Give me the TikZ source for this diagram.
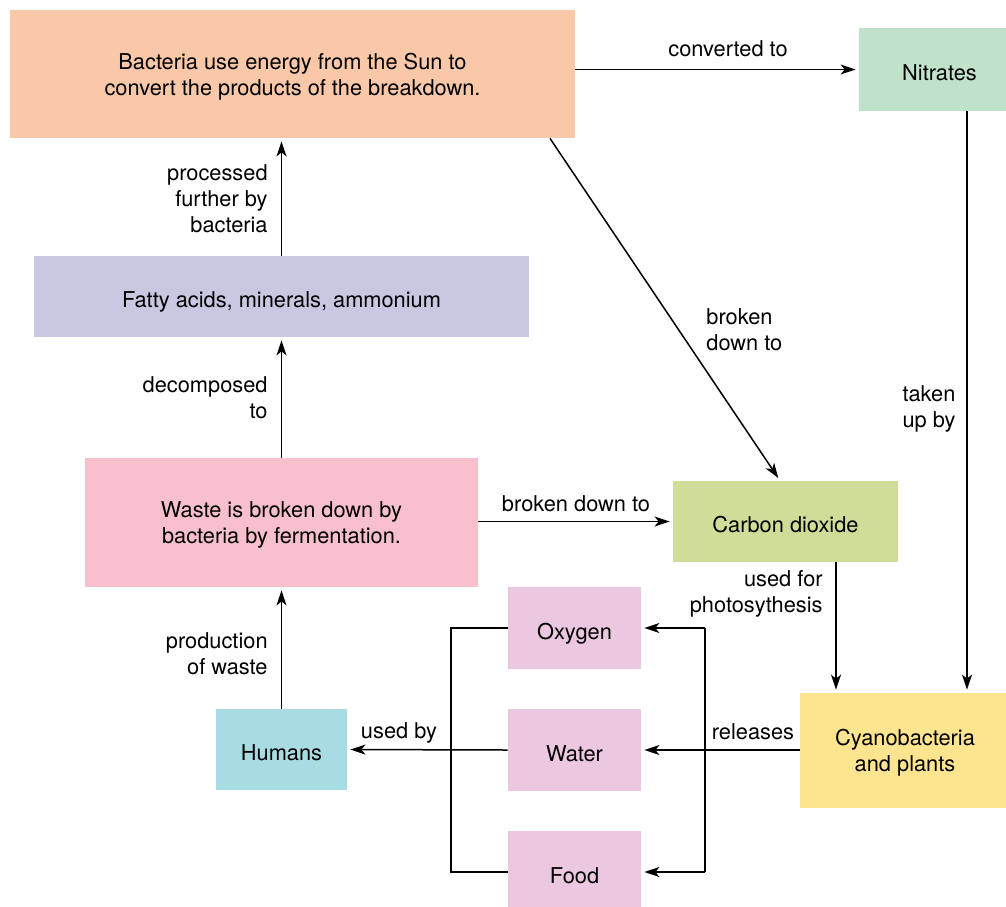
\documentclass[tikz,border=0pt]{standalone}
\usepackage{fontspec}
\setmainfont{TeX Gyre Heros}
\usetikzlibrary{arrows.meta}
\definecolor{cOrange}{HTML}{F9C8A9}
\definecolor{cNitr}{HTML}{C0E2CB}
\definecolor{cFatty}{HTML}{C9C7E1}
\definecolor{cWaste}{HTML}{F8C0CD}
\definecolor{cCO}{HTML}{CEDE98}
\definecolor{cProd}{HTML}{ECC7E0}
\definecolor{cHum}{HTML}{A9DBE3}
\definecolor{cCyan}{HTML}{FDE48E}
\newcommand\myupA{\rule{0pt}{11pt}}
\newcommand\myupB{\rule{0pt}{10pt}}
\tikzset{
  box/.style={inner sep=0pt, align=center, font=\fontsize{10.9pt}{13pt}\selectfont},
  onebox/.style={box, text height=11pt, text depth=0pt},
  lbl/.style={inner sep=0pt, font=\fontsize{10.9pt}{13pt}\selectfont},
  arr/.style={line width=0.75pt, -{Stealth[length=7.5pt,width=5pt,inset=2pt]}, shorten >=1.5pt},
  ln/.style={line width=0.75pt}
}
\begin{document}
\begin{tikzpicture}[x=0.5pt,y=-0.5pt]
\clip (0,0) rectangle (1006,906);
\fill[white] (0,0) rectangle (1006,906);
% boxes
\node[box, fill=cOrange, minimum width=282.5pt, minimum height=64pt] (top) at (292.5,74)
  {\myupA Bacteria use energy from the Sun to\\convert the products of the breakdown.};
\node[onebox, fill=cNitr, minimum width=80.5pt, minimum height=41.5pt] (nitr) at (939.5,69.5) {Nitrates};
\node[onebox, fill=cFatty, minimum width=247.5pt, minimum height=40.5pt] (fatty) at (281.5,296.5) {Fatty acids, minerals, ammonium};
\node[box, fill=cWaste, minimum width=196.5pt, minimum height=64.5pt] (waste) at (281.5,522.5)
  {\myupB Waste is broken down by\\bacteria by fermentation.};
\node[onebox, fill=cCO, minimum width=112.5pt, minimum height=40.5pt] (co2) at (785.5,521.5) {Carbon dioxide};
\node[onebox, fill=cProd, minimum width=66.5pt, minimum height=41pt] (oxy) at (574.5,628) {Oxygen};
\node[onebox, fill=cProd, minimum width=66.5pt, minimum height=41pt] (water) at (574.5,750) {Water};
\node[onebox, fill=cProd, minimum width=66.5pt, minimum height=41pt] (food) at (574.5,872) {Food};
\node[onebox, fill=cHum, minimum width=65.5pt, minimum height=40.5pt] (hum) at (281.5,749.5) {Humans};
\node[box, fill=cCyan, minimum width=105pt, minimum height=57.5pt] (cyan) at (905,750.5) {\myupB Cyanobacteria\\and plants};
% helper coordinates
\coordinate (nx) at (967,0);
\coordinate (d1) at (550,0);
\coordinate (d2) at (780,0);
\coordinate (c1) at (836,0);
\coordinate (rb) at (705,0);
\coordinate (lb) at (451,0);
% connectors
\draw[arr] (top.east |- nitr.west) -- (nitr.west);
\draw[arr] (nitr.south -| nx) -- (cyan.north -| nx);
\draw[arr] (top.south -| d1) -- (co2.north -| d2);
\draw[arr] (fatty.north) -- (fatty.north |- top.south);
\draw[arr] (waste.north) -- (waste.north |- fatty.south);
\draw[arr] (hum.north) -- (hum.north |- waste.south);
\draw[arr] (waste.east |- co2.west) -- (co2.west);
\draw[arr] (co2.south -| c1) -- (cyan.north -| c1);
\draw[arr] (cyan.west |- water.east) -- (water.east);
\draw[ln] (oxy.east -| rb) -- (food.east -| rb);
\draw[arr] (oxy.east -| rb) -- (oxy.east);
\draw[arr] (food.east -| rb) -- (food.east);
\draw[ln] (oxy.west) -- (oxy.west -| lb) -- (food.west -| lb) -- (food.west);
\draw[arr] (water.west) -- (hum.east);
% labels
\node[lbl] (l1) at (728,49) {converted to};
\node[lbl, align=left] (l2) at (929,409) {taken\\up by};
\node[lbl, align=left, anchor=west] (l3) at (706,330) {broken\\down to};
\node[lbl, align=right, anchor=east] (l4) at (268,199) {processed\\further by\\bacteria};
\node[lbl, align=right, anchor=east] (l5) at (268,398) {decomposed\\to};
\node[lbl] (l6) at (576,503.5) {broken down to};
\node[lbl, align=right, anchor=east] (l7) at (823,594) {used for\\photosythesis};
\node[lbl] (l8) at (753,731.5) {releases};
\node[lbl] (l9) at (399,732.5) {used by};
\node[lbl, align=right, anchor=east] (l10) at (268,654) {production\\of waste};
\end{tikzpicture}
\end{document}
